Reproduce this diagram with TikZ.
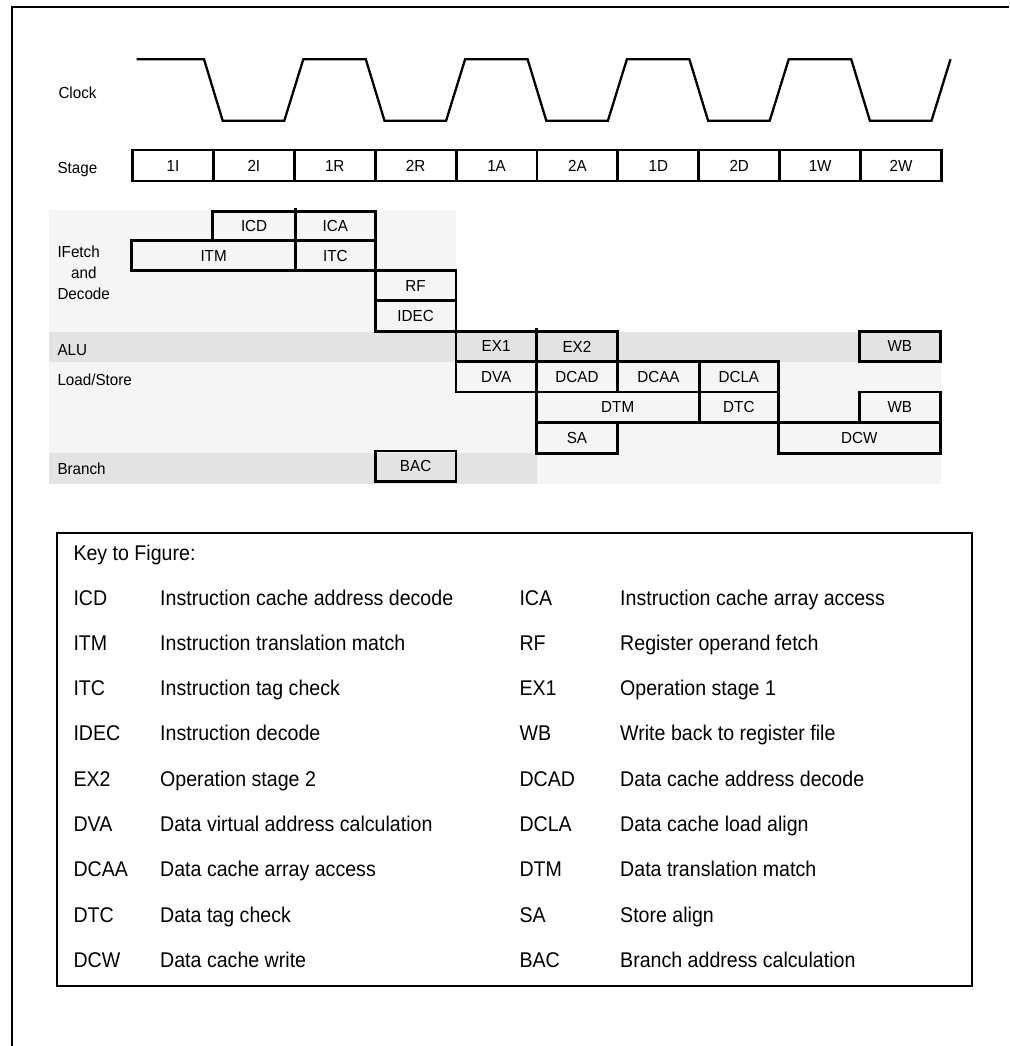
\documentclass[tikz,border=0pt]{standalone}
\usepackage{fontspec}
\setmainfont{Liberation Sans}
\newfontfamily\diafont{Liberation Sans}[FakeStretch=0.95]
\newfontfamily\keyfont{Liberation Sans}[FakeStretch=0.92]
\definecolor{bglight}{HTML}{F5F5F5}
\definecolor{bgdark}{HTML}{E3E3E3}
\begin{document}
\begin{tikzpicture}[x=1pt,y=-1pt,
  pbox/.style={draw, line width=2.7pt, rectangle, inner sep=0pt, outer sep=0pt, anchor=north west, font=\diafont\fontsize{16}{19}\selectfont},
  sbox/.style={pbox, line width=2.9pt, minimum width=80.9pt, minimum height=31pt},
  lbl/.style={anchor=base west, inner sep=0pt, font=\diafont\fontsize{16}{19}\selectfont},
  ktext/.style={anchor=base west, inner sep=0pt, font=\keyfont\fontsize{21.3}{25}\selectfont},
  clockline/.style={line width=2.3pt, line join=miter},
  framestyle/.style={line width=1.8pt}]
\useasboundingbox (0,0) rectangle (1009,1046);

% background bands
\fill[bglight] (49,210) rectangle (456,331.5);
\fill[bgdark] (49,331.5) rectangle (940.5,361.7);
\fill[bglight] (49,361.7) rectangle (940.5,453);
\fill[bgdark] (49,453) rectangle (536.7,483.5);
\fill[bglight] (536.7,453) rectangle (940.5,483.5);

% outer frame
\coordinate (fbl) at (12,1046);
\coordinate (ftl) at (12,7);
\coordinate (ftr) at (1009,7);
\draw[framestyle] (fbl) -- (ftl) -- (ftr);

% clock
\coordinate (clkstart) at (136.7,59.3);
\draw[clockline] (clkstart) foreach \k in {0,...,4} {
  -- ({204+161.8*\k},59.3) -- ({222.7+161.8*\k},120.7)
  -- ({284.3+161.8*\k},120.7) -- ({303.3+161.8*\k},59.3) };

\node[lbl] (clk) at (58.3,98.5) {Clock};
\node[lbl] (stg) at (57.3,173) {Stage};

% stage row
\foreach \i/\t in {0/1I,1/2I,2/1R,3/2R,4/1A,5/2A,6/1D,7/2D,8/1W,9/2W}
  \node[sbox] (s\i) at ({132.5+80.9*\i},150) {\t};

% row labels
\node[lbl] (lif) at (57.3,257.3) {IFetch};
\node[lbl] (land) at (71,278.3) {and};
\node[lbl] (ldec) at (57.3,299) {Decode};
\node[lbl] (lalu) at (57.3,355) {ALU};
\node[lbl] (lls) at (57.3,385) {Load/Store};
\node[lbl] (lbr) at (57.3,474) {Branch};

% pipeline boxes
\node[pbox, minimum width=82.8pt, minimum height=29.2pt] (icd) at (212.7,211.5) {ICD};
\node[pbox, minimum width=79.7pt, minimum height=29.2pt] (ica) at (295.5,211.5) {ICA};
\node[pbox, minimum width=163.8pt, minimum height=30pt] (itm) at (131.7,240.7) {ITM};
\node[pbox, minimum width=79.7pt, minimum height=30pt] (itc) at (295.5,240.7) {ITC};
\node[pbox, minimum width=80.8pt, minimum height=30pt] (rf) at (375.2,270.7) {RF};
\node[pbox, minimum width=80.8pt, minimum height=30.5pt] (idec) at (375.2,300.7) {IDEC};
\node[pbox, minimum width=80.2pt, minimum height=30.5pt] (ex1) at (456,331.2) {EX1};
\node[pbox, minimum width=81.5pt, minimum height=30.5pt] (ex2) at (536.2,331.2) {EX2};
\node[pbox, minimum width=80.7pt, minimum height=30.5pt] (wba) at (859.5,331.2) {WB};
\node[pbox, minimum width=80.2pt, minimum height=30.3pt] (dva) at (456,361.7) {DVA};
\node[pbox, minimum width=81.5pt, minimum height=30.3pt] (dcad) at (536.2,361.7) {DCAD};
\node[pbox, minimum width=81.5pt, minimum height=30.3pt] (dcaa) at (617.7,361.7) {DCAA};
\node[pbox, minimum width=79.3pt, minimum height=30.3pt] (dcla) at (699.2,361.7) {DCLA};
\node[pbox, minimum width=163pt, minimum height=30.7pt] (dtm) at (536.2,392) {DTM};
\node[pbox, minimum width=79.3pt, minimum height=30.7pt] (dtc) at (699.2,392) {DTC};
\node[pbox, minimum width=80.7pt, minimum height=30.7pt] (wbb) at (859.5,392) {WB};
\node[pbox, minimum width=81.5pt, minimum height=30.5pt] (sa) at (536.2,422.7) {SA};
\node[pbox, minimum width=161.7pt, minimum height=30.5pt] (dcw) at (778.5,422.7) {DCW};
\node[pbox, minimum width=80.8pt, minimum height=30.5pt] (bac) at (375.2,451) {BAC};

% small divider overshoots
\draw[line width=2.7pt] (ica.north west) -- ++(0,-3.5);
\draw[line width=2.7pt] (ex2.north west) -- ++(0,-3);

% key box
\node[draw, line width=2pt, rectangle, anchor=north west, inner sep=0pt, outer sep=0pt,
      minimum width=915pt, minimum height=452.8pt] (key) at (56.7,532.7) {};
\node[ktext] (ktitle) at (73.3,560) {Key to Figure:};
\foreach \i/\a/\d in {0/ICD/Instruction cache address decode,
                      1/ITM/Instruction translation match,
                      2/ITC/Instruction tag check,
                      3/IDEC/Instruction decode,
                      4/EX2/Operation stage 2,
                      5/DVA/Data virtual address calculation,
                      6/DCAA/Data cache array access,
                      7/DTC/Data tag check,
                      8/DCW/Data cache write} {
  \node[ktext] (kla\i) at (73.3,{605+45.3*\i}) {\a};
  \node[ktext] (kld\i) at (160,{605+45.3*\i}) {\d};
}
\foreach \i/\a/\d in {0/ICA/Instruction cache array access,
                      1/RF/Register operand fetch,
                      2/EX1/Operation stage 1,
                      3/WB/Write back to register file,
                      4/DCAD/Data cache address decode,
                      5/DCLA/Data cache load align,
                      6/DTM/Data translation match,
                      7/SA/Store align,
                      8/BAC/Branch address calculation} {
  \node[ktext] (kra\i) at (519.3,{605+45.3*\i}) {\a};
  \node[ktext] (krd\i) at (620,{605+45.3*\i}) {\d};
}
\end{tikzpicture}
\end{document}
